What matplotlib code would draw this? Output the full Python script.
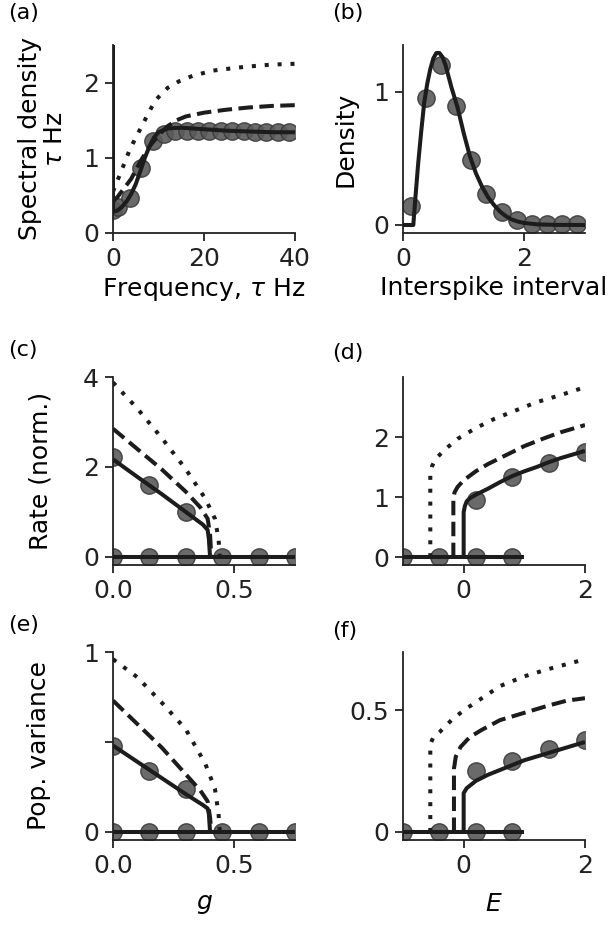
import matplotlib
matplotlib.use("Agg")
import matplotlib.pyplot as plt

# ---- data ----
# (a) spectral density
freq_dot = [0, 1, 2, 3.5, 5, 6.5, 8, 9.4, 12, 14.6, 17.5, 22, 29, 35, 40]
spec_dot = [0.55, 0.7, 0.85, 1.08, 1.27, 1.44, 1.62, 1.77, 1.93, 2.02, 2.09, 2.16, 2.21, 2.24, 2.25]
freq_dash = [0, 1, 2, 4, 6, 8, 10, 12, 14, 16, 20, 25, 30, 35, 40]
spec_dash = [0.42, 0.48, 0.56, 0.72, 0.95, 1.15, 1.3, 1.42, 1.5, 1.55, 1.6, 1.64, 1.67, 1.69, 1.70]
freq_sol = [0, 0, 1, 2, 3, 4, 5, 6, 7, 8, 9, 10, 12, 15, 20, 25, 30, 35, 40]
spec_sol = [10, 0.28, 0.3, 0.35, 0.42, 0.52, 0.65, 0.82, 1.0, 1.15, 1.27, 1.34, 1.39, 1.40, 1.38, 1.36, 1.35, 1.34, 1.34]
freq_sim = [0, 1.2, 3.7, 6.2, 8.7, 11.2, 13.7, 16.2, 18.7, 21.2, 23.7, 26.2, 28.7, 31.2, 33.7, 36.2, 38.7]
spec_sim = [0.30, 0.35, 0.46, 0.86, 1.22, 1.32, 1.36, 1.36, 1.36, 1.35, 1.35, 1.35, 1.35, 1.34, 1.34, 1.34, 1.34]

# (b) interspike interval density
isi = [0, 0.17, 0.2, 0.25, 0.3, 0.35, 0.4, 0.45, 0.5, 0.55, 0.6, 0.65, 0.7, 0.8, 0.9, 1.0,
       1.1, 1.2, 1.3, 1.4, 1.5, 1.6, 1.7, 1.8, 1.9, 2.0, 2.2, 2.5, 3.0]
isi_dens = [0, 0, 0.18, 0.46, 0.7, 0.92, 1.06, 1.17, 1.25, 1.29, 1.29, 1.26, 1.2, 1.03, 0.88, 0.69,
            0.52, 0.39, 0.29, 0.21, 0.15, 0.1, 0.065, 0.04, 0.025, 0.015, 0.005, 0.001, 0]
isi_sim = [0.125, 0.375, 0.625, 0.875, 1.125, 1.375, 1.625, 1.875, 2.125, 2.375, 2.625, 2.875]
isi_sim_dens = [0.14, 0.95, 1.2, 0.89, 0.49, 0.23, 0.10, 0.04, 0.01, 0.01, 0.01, 0.01]

# (c) rate vs g
g_sol = [0, 0.1, 0.2, 0.3, 0.37, 0.39, 0.395, 0.40]
rate_g_sol = [2.17, 1.78, 1.4, 1.0, 0.72, 0.6, 0.4, 0]
g_dash = [0, 0.1, 0.2, 0.3, 0.36, 0.39, 0.40, 0.405]
rate_g_dash = [2.85, 2.4, 1.95, 1.45, 1.1, 0.85, 0.5, 0]
g_dot = [0, 0.1, 0.2, 0.3, 0.38, 0.42, 0.435, 0.44]
rate_g_dot = [3.88, 3.3, 2.65, 1.95, 1.3, 0.85, 0.4, 0]
g_zero = [0, 0.75]
g_sim_up = [0, 0.15, 0.30]
rate_g_sim = [2.23, 1.59, 0.99]
g_sim_zero = [0, 0.15, 0.30, 0.45, 0.60, 0.75]

# (d) rate vs E
E_sol = [0, 0, 0.02, 0.05, 0.1, 0.2, 0.4, 0.6, 0.8, 1.0, 1.2, 1.4, 1.6, 1.8, 2.0]
rate_E_sol = [0, 0.75, 0.85, 0.93, 0.98, 1.04, 1.14, 1.25, 1.35, 1.43, 1.5, 1.58, 1.65, 1.71, 1.77]
E_dash = [-0.17, -0.17, -0.15, -0.1, 0, 0.2, 0.4, 0.7, 1.0, 1.3, 1.6, 2.0]
rate_E_dash = [0, 0.98, 1.08, 1.17, 1.28, 1.43, 1.55, 1.7, 1.85, 1.97, 2.08, 2.2]
E_dot = [-0.55, -0.55, -0.52, -0.45, -0.3, -0.1, 0.2, 0.5, 0.8, 1.2, 1.6, 2.0]
rate_E_dot = [0, 1.38, 1.52, 1.65, 1.8, 1.97, 2.15, 2.3, 2.42, 2.58, 2.7, 2.83]
E_zero = [-1, 1]
E_sim_up = [0.2, 0.8, 1.4, 2.0]
rate_E_sim = [0.96, 1.34, 1.56, 1.75]
E_sim_zero = [-1, -0.4, 0.2, 0.8]

# (e) population variance vs g
var_g_sol = [0.48, 0.39, 0.30, 0.21, 0.15, 0.13, 0.10, 0]
var_g_dash = [0.73, 0.6, 0.47, 0.32, 0.23, 0.17, 0.08, 0]
var_g_dot = [0.96, 0.86, 0.72, 0.57, 0.38, 0.24, 0.1, 0]
var_g_sim = [0.48, 0.34, 0.24]

# (f) population variance vs E
E_sol_f = [0, 0, 0.05, 0.1, 0.2, 0.4, 0.6, 0.8, 1.0, 1.2, 1.4, 1.6, 1.8, 2.0]
var_E_sol = [0, 0.16, 0.18, 0.19, 0.21, 0.235, 0.255, 0.275, 0.295, 0.31, 0.325, 0.34, 0.355, 0.37]
E_dash_f = [-0.16, -0.16, -0.13, -0.05, 0.1, 0.3, 0.6, 1.0, 1.4, 1.7, 2.0]
var_E_dash = [0, 0.26, 0.31, 0.35, 0.39, 0.42, 0.46, 0.49, 0.52, 0.54, 0.55]
E_dot_f = [-0.55, -0.55, -0.5, -0.4, -0.2, 0, 0.3, 0.6, 1.0, 1.4, 1.7, 2.0]
var_E_dot = [0, 0.36, 0.39, 0.41, 0.46, 0.5, 0.55, 0.6, 0.64, 0.67, 0.69, 0.71]
var_E_sim = [0.25, 0.29, 0.34, 0.38]

# ---- styling ----
plt.rcParams['font.family'] = ['DejaVu Sans']
plt.rcParams['font.size'] = 18
plt.rcParams['mathtext.fontset'] = 'dejavusans'

LINE = '#1c1c1c'
LW = 2.9
DOT = (0, (1, 2.2))
DASH = (0, (3.6, 1.6))
MK = dict(marker='o', ls='none', ms=12.5, mfc='#5a5a5a', mec='#3a3a3a', mew=1.0, alpha=0.9, zorder=2)


def style(ax):
    for s in ['top', 'right']:
        ax.spines[s].set_visible(False)
    for s in ['left', 'bottom']:
        ax.spines[s].set_linewidth(1.3)
        ax.spines[s].set_color('#222222')
    ax.tick_params(direction='out', length=6, width=1.3, pad=4, colors='#222222')


def curves(ax, xs, ys, ls):
    ax.plot(xs, ys, color=LINE, lw=LW, ls=ls, dash_capstyle='butt', solid_capstyle='butt', zorder=3)


fig = plt.figure(figsize=(6.13, 9.30), dpi=100)
colx = [113 / 613, 403 / 613]
w = 182 / 613
rowy = [(930 - 233) / 930, (930 - 565) / 930, (930 - 840) / 930]
h = 188 / 930

axa = fig.add_axes([colx[0], rowy[0], w, h])
axb = fig.add_axes([colx[1], rowy[0], w, h])
axc = fig.add_axes([colx[0], rowy[1], w, h])
axd = fig.add_axes([colx[1], rowy[1], w, h])
axe = fig.add_axes([colx[0], rowy[2], w, h])
axf = fig.add_axes([colx[1], rowy[2], w, h])

# (a)
axa.plot(freq_sim, spec_sim, **MK)
curves(axa, freq_dot, spec_dot, DOT)
curves(axa, freq_dash, spec_dash, DASH)
curves(axa, freq_sol, spec_sol, '-')
axa.set_xlim(0, 40)
axa.set_ylim(0, 2.5)
axa.set_xticks([0, 20, 40])
axa.set_yticks([0, 1, 2])
axa.set_xlabel('Frequency, $\\tau$ Hz', labelpad=4)
axa.set_ylabel('Spectral density\n$\\tau$ Hz', linespacing=1.1)
axa.yaxis.set_label_coords(-0.25, 0.5)

# (b)
axb.plot(isi_sim, isi_sim_dens, **MK)
curves(axb, isi, isi_dens, '-')
axb.set_xlim(0, 3)
axb.set_ylim(-0.06, 1.35)
axb.set_xticks([0, 2])
axb.set_yticks([0, 1])
axb.set_xlabel('Interspike interval', labelpad=4)
axb.set_ylabel('Density')
axb.yaxis.set_label_coords(-0.25, 0.5)

# (c)
axc.plot(g_sim_up, rate_g_sim, **MK)
axc.plot(g_sim_zero, [0] * len(g_sim_zero), **MK)
curves(axc, g_dot, rate_g_dot, DOT)
curves(axc, g_dash, rate_g_dash, DASH)
curves(axc, g_sol, rate_g_sol, '-')
curves(axc, g_zero, [0, 0], '-')
axc.set_xlim(0, 0.75)
axc.set_ylim(-0.18, 4)
axc.set_xticks([0, 0.5])
axc.set_xticklabels(['0.0', '0.5'])
axc.set_yticks([0, 2, 4])
axc.set_ylabel('Rate (norm.)')
axc.yaxis.set_label_coords(-0.33, 0.5)

# (d)
axd.plot(E_sim_up, rate_E_sim, **MK)
axd.plot(E_sim_zero, [0] * len(E_sim_zero), **MK)
curves(axd, E_dot, rate_E_dot, DOT)
curves(axd, E_dash, rate_E_dash, DASH)
curves(axd, E_sol, rate_E_sol, '-')
curves(axd, E_zero, [0, 0], '-')
axd.set_xlim(-1, 2)
axd.set_ylim(-0.13, 3.0)
axd.set_xticks([0, 2])
axd.set_yticks([0, 1, 2])

# (e)
axe.plot(g_sim_up, var_g_sim, **MK)
axe.plot(g_sim_zero, [0] * len(g_sim_zero), **MK)
curves(axe, g_dot, var_g_dot, DOT)
curves(axe, g_dash, var_g_dash, DASH)
curves(axe, g_sol, var_g_sol, '-')
curves(axe, g_zero, [0, 0], '-')
axe.set_xlim(0, 0.75)
axe.set_ylim(-0.045, 1.0)
axe.set_xticks([0, 0.5])
axe.set_xticklabels(['0.0', '0.5'])
axe.set_yticks([0, 0.5, 1])
axe.set_yticklabels(['0', '', '1'])
axe.set_ylabel('Pop. variance')
axe.yaxis.set_label_coords(-0.34, 0.5)
axe.set_xlabel('$g$', labelpad=10)

# (f)
axf.plot(E_sim_up, var_E_sim, **MK)
axf.plot(E_sim_zero, [0] * len(E_sim_zero), **MK)
curves(axf, E_dot_f, var_E_dot, DOT)
curves(axf, E_dash_f, var_E_dash, DASH)
curves(axf, E_sol_f, var_E_sol, '-')
curves(axf, E_zero, [0, 0], '-')
axf.set_xlim(-1, 2)
axf.set_ylim(-0.033, 0.74)
axf.set_xticks([0, 2])
axf.set_yticks([0, 0.5])
axf.set_yticklabels(['0', '0.5'])
axf.set_xlabel('$E$', labelpad=10)

for ax in [axa, axb, axc, axd, axe, axf]:
    style(ax)

# panel letters
labels = [('(a)', 8, 3), ('(b)', 332, 3), ('(c)', 8, 340), ('(d)', 332, 343), ('(e)', 8, 615), ('(f)', 332, 621)]
for txt, px, py in labels:
    fig.text(px / 613, 1 - py / 930, txt, ha='left', va='top', fontsize=16)

fig.savefig('out.png', dpi=100)
